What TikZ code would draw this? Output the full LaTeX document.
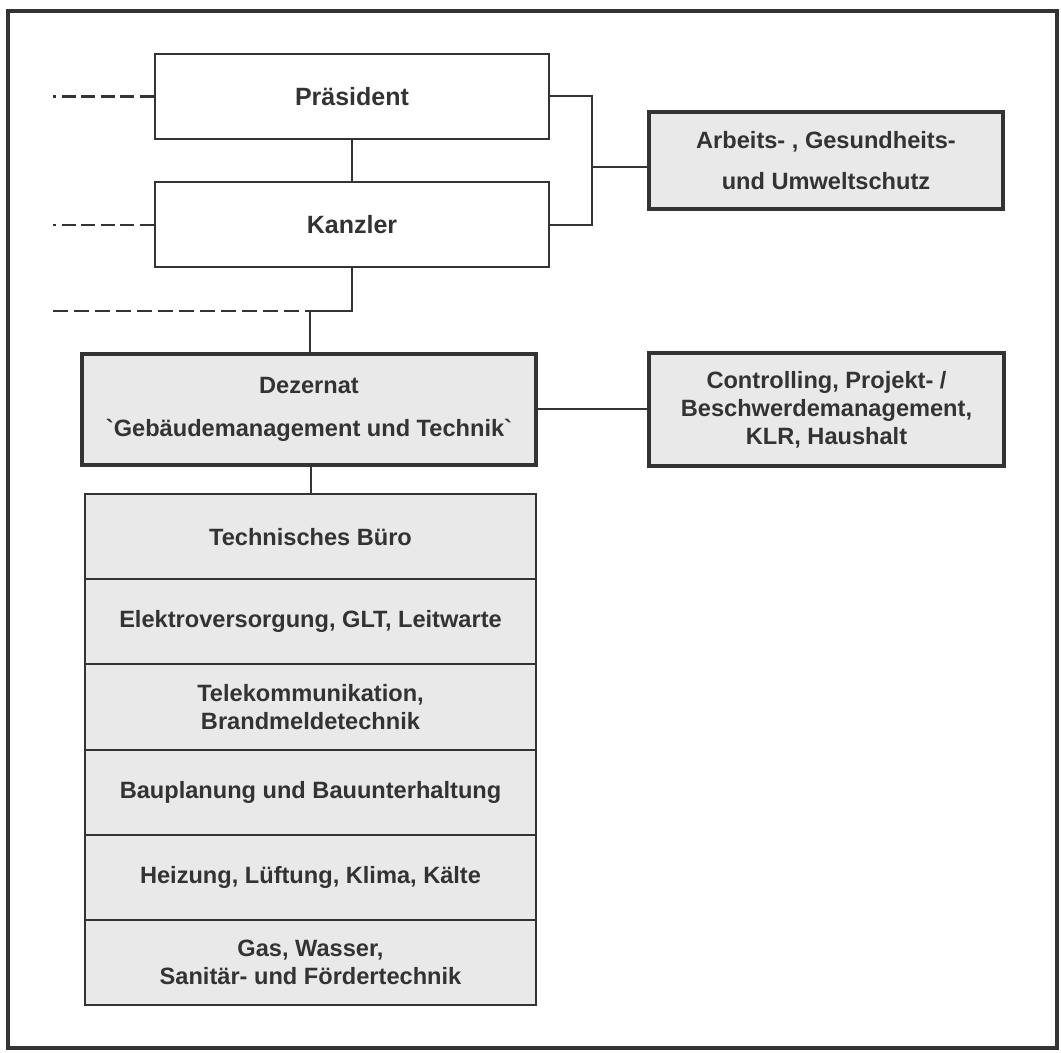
\documentclass[tikz,border=0pt]{standalone}
\usepackage{fontspec}
\setmainfont{Liberation Sans}
\definecolor{ink}{HTML}{333333}
\definecolor{paper}{HTML}{E9E9E9}
\begin{document}
\begin{tikzpicture}[x=0.5pt,y=-0.5pt,
  every node/.style={text=ink, align=center, inner sep=0pt, outer sep=0pt},
  chief/.style={rectangle, draw=ink, line width=1pt, fill=white, minimum width=197pt, minimum height=42.5pt, font=\fontsize{12.5}{15}\selectfont\bfseries},
  staff/.style={rectangle, draw=ink, line width=2pt, fill=paper, font=\fontsize{11.8}{14}\selectfont\bfseries},
  unit/.style={rectangle, draw=ink, line width=1pt, fill=paper, minimum width=225.5pt, minimum height=42.58pt, font=\fontsize{11.8}{14}\selectfont\bfseries},
  link/.style={draw=ink, line width=1pt},
  dotdash/.style={link, line width=1.3pt, dash pattern=on 1.5pt off 3pt on 7pt off 2.7pt on 7pt off 2.7pt on 7pt off 2.7pt on 7pt off 2.7pt on 7pt off 2.7pt on 30pt},
  longdash/.style={link, line width=1.3pt, dash pattern=on 7.5pt off 3pt}]
\useasboundingbox (0,0) rectangle (1061,1053);
\draw [draw=ink, line width=1.6pt] (8,11) rectangle (1057,1048);
% top of the house
\node [chief] (pres) at (352,96.5) {Präsident};
\node [chief] (kanz) at (352,225) {Kanzler};
\node [staff, minimum width=177pt, minimum height=48.5pt, font=\fontsize{11.8}{20.5}\selectfont\bfseries] (arb) at (826,160.5) {Arbeits- , Gesundheits-\\und Umweltschutz};
% the Dezernat and its staff unit
\node [staff, minimum width=227pt, minimum height=55.5pt, font=\fontsize{11.8}{21.5}\selectfont\bfseries] (dez) at (309,409.5) {Dezernat\\\textasciigrave Gebäudemanagement und Technik\textasciigrave};
\node [staff, minimum width=177.5pt, minimum height=56.5pt] (ctrl) at (826.5,409.5) {Controlling, Projekt- /\\Beschwerdemanagement,\\KLR, Haushalt};
% the sections
\node [unit] (row1) at (310.5,536.6) {Technisches Büro};
\node [unit] (row2) at (310.5,621.8) {Elektroversorgung, GLT, Leitwarte};
\node [unit] (row3) at (310.5,707) {Telekommunikation,\\Brandmeldetechnik};
\node [unit] (row4) at (310.5,792.1) {Bauplanung und Bauunterhaltung};
\node [unit] (row5) at (310.5,877.3) {Heizung, Lüftung, Klima, Kälte};
\node [unit] (row6) at (310.5,962.5) {Gas, Wasser,\\Sanitär- und Fördertechnik};
% connectors
\coordinate (brk) at (592,167);
\coordinate (jn) at (310,311);
\coordinate (lft1) at (53,96.5);
\coordinate (lft2) at (53,225);
\coordinate (lft3) at (53,311);
\draw [link] (pres.south) -- (kanz.north);
\draw [link] (pres.east) -| (brk) |- (kanz.east);
\draw [link] (brk) -- (brk -| arb.west);
\draw [link] (kanz.south) |- (jn);
\draw [link] (jn) -- (jn |- dez.north);
\draw [link] (dez.east) -- (ctrl.west);
\draw [link] (dez.south -| row1.north) -- (row1.north);
\draw [dotdash] (lft1) -- (pres.west);
\draw [dotdash] (lft2) -- (kanz.west);
\draw [longdash] (lft3) -- (jn);
\end{tikzpicture}
\end{document}
